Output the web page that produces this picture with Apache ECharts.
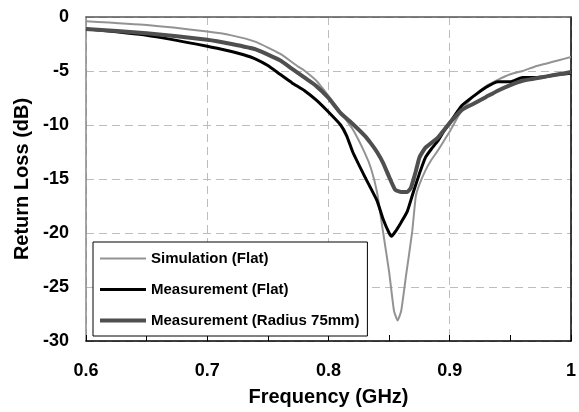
<!DOCTYPE html>
<html>
<head>
<meta charset="utf-8">
<script src="https://cdn.jsdelivr.net/npm/echarts@6/dist/echarts.min.js"></script>
<style>
html,body{margin:0;padding:0;background:#fff;}
#chart{width:579px;height:412px;}
</style>
</head>
<body>
<div id="chart"></div>
<script>
// Data
var seriesNames = ['Simulation (Flat)', 'Measurement (Flat)', 'Measurement (Radius 75mm)'];
var xTicks = [0.6, 0.7, 0.8, 0.9, 1.0];
var yTicks = [0, -5, -10, -15, -20, -25, -30];

var simFreq = [0.60,0.65,0.70,0.72,0.74,0.76,0.775,0.78,0.79,0.80,0.81,0.82,0.83,0.835,0.84,0.845,0.85,0.854,0.857,0.86,0.864,0.869,0.872,0.875,0.88,0.885,0.89,0.895,0.90,0.91,0.92,0.93,0.94,0.95,0.96,0.97,0.98,0.99,1.00];
var simLoss = [-0.4,-0.75,-1.35,-1.7,-2.3,-3.4,-4.6,-4.95,-5.9,-7.3,-8.8,-10.4,-12.6,-14.0,-16.2,-19.9,-23.6,-27.2,-28.1,-27.2,-23.9,-19.9,-16.6,-15.5,-14.2,-13.2,-12.4,-11.5,-10.6,-8.6,-7.3,-6.4,-5.8,-5.3,-5.0,-4.6,-4.3,-4.0,-3.7];

var flatFreq = [0.60,0.65,0.70,0.72,0.73,0.74,0.75,0.76,0.77,0.78,0.79,0.80,0.81,0.815,0.82,0.83,0.84,0.845,0.85,0.852,0.855,0.86,0.865,0.87,0.875,0.88,0.885,0.89,0.895,0.90,0.91,0.92,0.93,0.94,0.95,0.96,0.97,0.98,0.99,1.00];
var flatLoss = [-1.1,-1.7,-2.7,-3.2,-3.5,-3.9,-4.5,-5.3,-6.1,-6.8,-7.7,-8.8,-10.0,-11.0,-12.5,-14.8,-17.0,-18.7,-20.0,-20.3,-19.9,-19.0,-18.0,-16.2,-14.5,-13.0,-12.2,-11.5,-10.6,-9.8,-8.2,-7.3,-6.5,-6.0,-6.0,-5.6,-5.6,-5.5,-5.3,-5.2];

var radFreq = [0.60,0.65,0.70,0.72,0.74,0.76,0.77,0.78,0.79,0.80,0.81,0.82,0.83,0.835,0.84,0.845,0.85,0.855,0.86,0.865,0.868,0.872,0.875,0.88,0.89,0.90,0.91,0.92,0.93,0.94,0.95,0.96,0.97,0.98,0.99,1.00];
var radLoss = [-1.1,-1.5,-2.1,-2.5,-3.0,-4.0,-4.8,-5.6,-6.4,-7.5,-8.9,-9.9,-11.0,-11.7,-12.5,-13.5,-14.8,-16.0,-16.2,-16.2,-15.8,-14.3,-13.0,-12.1,-11.2,-9.8,-8.6,-8.0,-7.4,-6.8,-6.3,-5.9,-5.7,-5.5,-5.3,-5.1];

function pairs(xs, ys){ return xs.map(function(x,i){ return [x, ys[i]]; }); }

var FONT = 'Liberation Sans, Arial, Helvetica, sans-serif';
var chart = echarts.init(document.getElementById('chart'), null, {renderer:'canvas'});
chart.setOption({
  animation: false,
  backgroundColor: '#ffffff',
  grid: {left: 86, right: 2, top: 17, bottom: 69, containLabel: false},
  legend: {
    orient: 'vertical',
    left: 93, top: 242,
    data: [
      {name: seriesNames[0], icon: 'path://M0,0H46V2H0Z'},
      {name: seriesNames[1], icon: 'path://M0,0H46V3H0Z'},
      {name: seriesNames[2], icon: 'path://M0,0H46V4H0Z'}
    ],
    symbolKeepAspect: true,
    padding: [9, 8, 8, 7],
    itemWidth: 46, itemHeight: 14, itemGap: 16,
    backgroundColor: '#ffffff',
    borderColor: '#000000', borderWidth: 1, borderRadius: 0,
    textStyle: {fontFamily: FONT, fontWeight: 'bold', fontSize: 15, color: '#000'}
  },
  xAxis: [{
    type: 'value', min: xTicks[0], max: xTicks[xTicks.length-1], interval: 0.1,
    name: 'Frequency (GHz)', nameLocation: 'middle', nameGap: 46,
    nameTextStyle: {fontFamily: FONT, fontWeight: 'bold', fontSize: 20, color: '#000'},
    axisLine: {show: true, onZero: false, lineStyle: {color: '#000', width: 1.5}},
    axisTick: {show: true, inside: true, length: 6, lineStyle: {color: '#000'}},
    minorTick: {show: true, splitNumber: 2, length: 6, lineStyle: {color: '#000'}},
    axisLabel: {margin: 21, fontFamily: FONT, fontWeight: 'bold', fontSize: 18, color: '#000',
      formatter: function(v){ return String(+v.toFixed(2)); }},
    splitLine: {show: true, lineStyle: {color: '#bdbdbd', type: [8,5], width: 1}}
  }, {
    type: 'value', position: 'top', min: 0.6, max: 1.0, interval: 0.1,
    axisLine: {show: true, onZero: false, lineStyle: {color: '#555', width: 1.5}},
    axisTick: {show: false}, axisLabel: {show: false}, splitLine: {show: false}
  }],
  yAxis: [{
    type: 'value', min: yTicks[yTicks.length-1], max: yTicks[0], interval: 5,
    name: 'Return Loss (dB)', nameLocation: 'middle', nameGap: 54, nameRotate: 90,
    nameTextStyle: {fontFamily: FONT, fontWeight: 'bold', fontSize: 20, color: '#000'},
    axisLine: {show: true, onZero: false, lineStyle: {color: '#888', width: 1.5}},
    axisTick: {show: false},
    axisLabel: {margin: 17, fontFamily: FONT, fontWeight: 'bold', fontSize: 18, color: '#000'},
    splitLine: {show: true, lineStyle: {color: '#bdbdbd', type: [8,5], width: 1}}
  }, {
    type: 'value', position: 'right', min: -30, max: 0, interval: 5,
    axisLine: {show: true, onZero: false, lineStyle: {color: '#000', width: 1.5}},
    axisTick: {show: false}, axisLabel: {show: false}, splitLine: {show: false}
  }],
  series: [{
    name: seriesNames[0], type: 'line', showSymbol: false, symbol: 'none', smooth: 0.15,
    data: pairs(simFreq, simLoss), z: 3,
    lineStyle: {color: '#939393', width: 2}, itemStyle: {color: '#939393'}
  }, {
    name: seriesNames[1], type: 'line', showSymbol: false, symbol: 'none', smooth: 0.15,
    data: pairs(flatFreq, flatLoss), z: 4,
    lineStyle: {color: '#000000', width: 3}, itemStyle: {color: '#000000'}
  }, {
    name: seriesNames[2], type: 'line', showSymbol: false, symbol: 'none', smooth: 0.15,
    data: pairs(radFreq, radLoss), z: 5,
    lineStyle: {color: '#4f4f4f', width: 4}, itemStyle: {color: '#4f4f4f'}
  }]
});
</script>
</body>
</html>
